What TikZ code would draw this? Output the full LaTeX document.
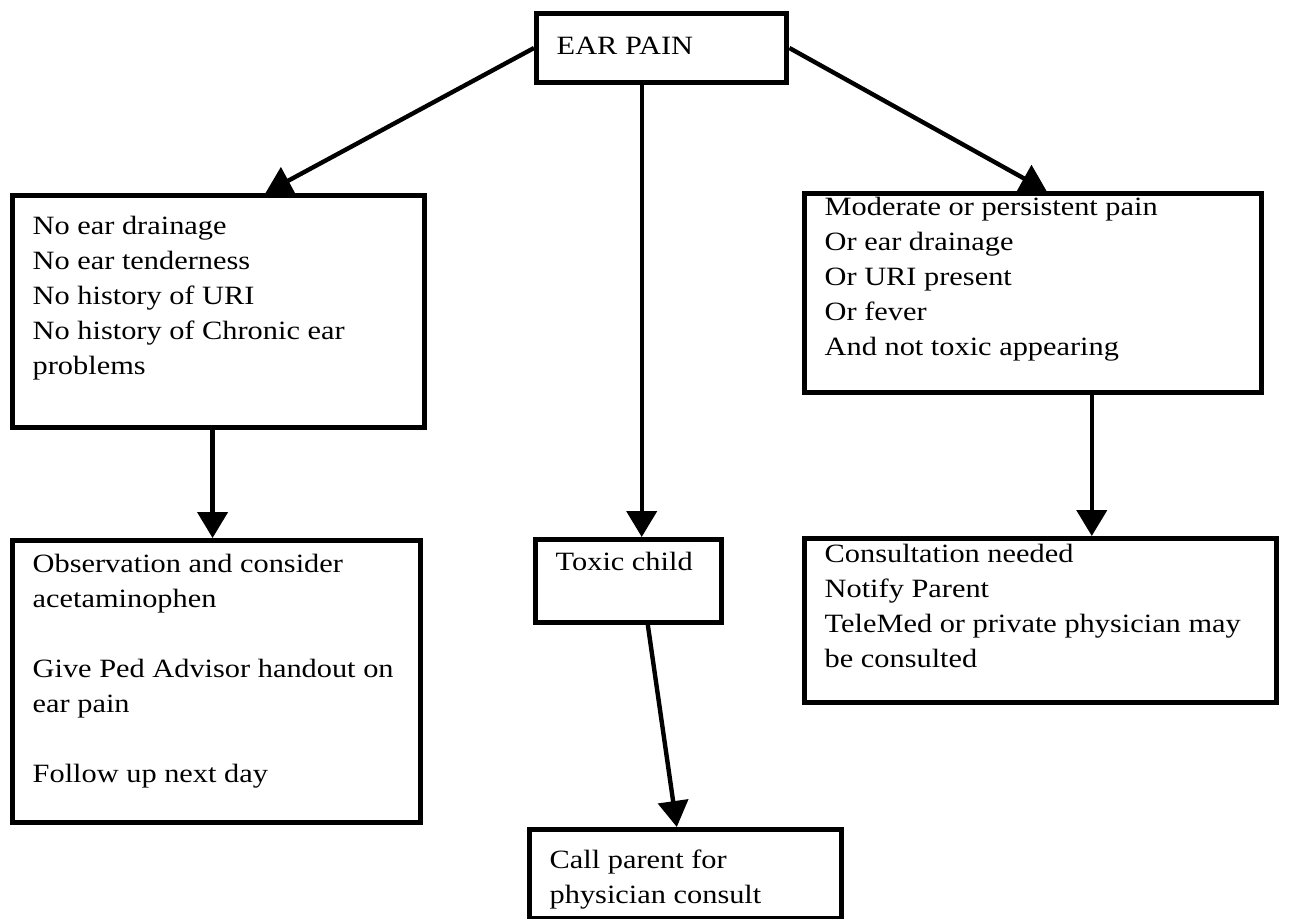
\documentclass[tikz,border=0pt]{standalone}
\usepackage{fontspec}
\setmainfont{Liberation Serif}[FakeStretch=1.15]
\usepackage{tikz}
\usetikzlibrary{arrows.meta,calc}
\newcommand{\boxlines}[3]{\parbox[t][#2][t]{#1}{\raggedright #3}}
\tikzset{
  flowbox/.style={draw, line width=2.7pt, anchor=north west, inner xsep=10pt,
    font=\fontsize{13.2pt}{17.5pt}\selectfont},
  flowarrow/.style={line width=2.2pt, -{Triangle[width=15pt,length=13pt]}}
}

\begin{document}
\begin{tikzpicture}[x=0.5pt, y=-0.5pt]
  \useasboundingbox (0,0) rectangle (1291,918);

  % Question at the top.
  \node[flowbox, inner ysep=11.5pt] (ear) at (534,11)
    {\boxlines{105pt}{11.3pt}{EAR PAIN}};

  % The three findings.
  \node[flowbox, inner ysep=10pt] (nodrain) at (10,193)
    {\boxlines{186pt}{95.8pt}{No ear drainage\\ No ear tenderness\\
      No history of URI\\ No history of Chronic ear\\ problems}};
  \node[flowbox, inner ysep=1.6pt] (mod) at (802,191)
    {\boxlines{208.5pt}{96.1pt}{Moderate or persistent pain\\ Or ear drainage\\
      Or URI present\\ Or fever\\ And not toxic appearing}};
  \node[flowbox, inner ysep=6pt] (toxic) at (533,537)
    {\boxlines{73pt}{29.3pt}{Toxic child}};

  % What to do.
  \node[flowbox, inner ysep=6.6pt] (obs) at (10,538)
    {\boxlines{184pt}{127.6pt}{Observation and consider\\ acetaminophen\\[17.5pt]
      Give Ped Advisor handout on\\ ear pain\\[17.5pt] Follow up next day}};
  \node[flowbox, inner ysep=2.6pt] (consult) at (802,536)
    {\boxlines{216pt}{76.6pt}{Consultation needed\\ Notify Parent\\
      TeleMed or private physician may\\ be consulted}};
  \node[flowbox, inner ysep=10pt] (callp) at (527,827)
    {\boxlines{136pt}{24.3pt}{Call parent for\\ physician consult}};

  \coordinate (nodraintop) at ($(nodrain.north west)!0.612!(nodrain.north east)$);
  \coordinate (modtop) at ($(mod.north west)!0.529!(mod.north east)$);
  \coordinate (toxictop) at ($(toxic.north west)!0.568!(toxic.north east)$);
  \coordinate (obstop) at ($(obs.north west)!0.49!(obs.north east)$);
  \coordinate (consulttop) at ($(consult.north west)!0.607!(consult.north east)$);
  \coordinate (toxicfoot) at ($(toxic.south west)!0.6!(toxic.south east)$);
  \coordinate (callptop) at ($(callp.north west)!0.472!(callp.north east)$);

  \draw[flowarrow] (ear.west) -- (nodraintop);
  \draw[flowarrow] (ear.east) -- (modtop);
  \draw[flowarrow] (ear.south -| toxictop) -- (toxictop);
  \draw[flowarrow] (nodrain.south -| obstop) -- (obstop);
  \draw[flowarrow] (mod.south -| consulttop) -- (consulttop);
  \draw[flowarrow] (toxicfoot) -- (callptop);
\end{tikzpicture}
\end{document}
